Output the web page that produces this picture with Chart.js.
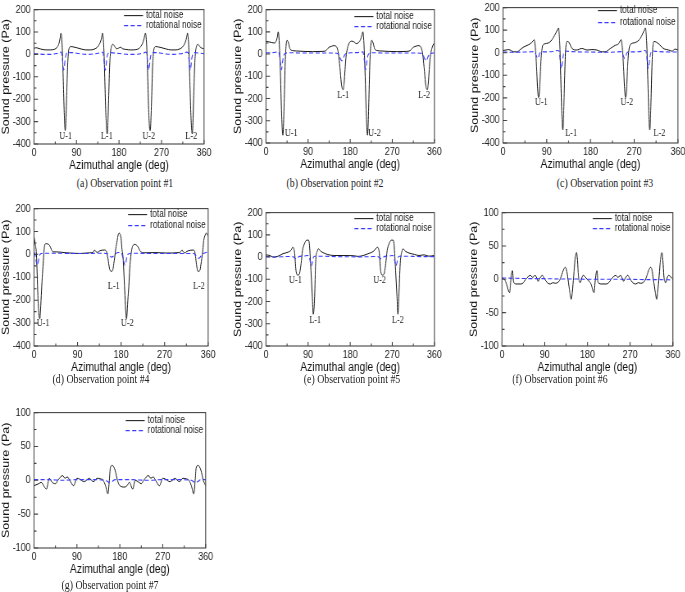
<!DOCTYPE html>
<html><head><meta charset="utf-8">
<script src="https://cdn.jsdelivr.net/npm/chart.js@4.4.1/dist/chart.umd.min.js"></script>
<style>
html,body{margin:0;padding:0;background:#fff}
body{width:685px;height:592px;position:relative;overflow:hidden}
canvas.pn{position:absolute;transform-origin:0 0;transform:scaleX(0.82)}
.cap{position:absolute;font-family:"Liberation Serif","Times New Roman",serif;font-size:12px;line-height:14px;color:#222;white-space:nowrap;transform:translateX(-50%) scaleX(0.82)}
</style></head><body>
<script>
// ---------- DATA ----------
const xTickLabels = [0, 90, 180, 270, 360];
const seriesNames = ['total noise', 'rotational noise'];
const captions = ['(a) Observation point #1','(b) Observation point #2','(c) Observation point #3','(d) Observation point #4','(e) Observation point #5','(f) Observation point #6','(g) Observation point #7'];

// (a)
const aTotAng = [0,4,8,14,20,30,40,46,50,53,55,57,58,60,62,64,66,67,69,71,73,75,78,84,90,100,110,120,128,134,139,142,144,145,146,148,150,152,154,155,156,158,160,162,164,167,171,175,179,183,188,195,205,215,222,226,230,233,236,237,239,241,243,245,246,247,249,251,253,255,258,264,270,280,290,300,308,314,319,322,324,325,326,328,330,332,334,335,336,338,340,342,344,347,351,355,360];
const aTot    = [25,30,28,24,21,20,21,26,35,50,70,95,85,20,-120,-260,-340,-320,-200,-60,10,30,35,33,30,24,20,20,24,32,48,65,85,95,85,20,-120,-260,-340,-355,-330,-200,-60,10,35,45,35,25,28,32,25,22,20,21,26,35,50,70,95,85,20,-120,-260,-335,-340,-320,-200,-60,10,30,35,33,30,24,20,20,24,32,48,65,85,95,85,20,-120,-260,-340,-355,-330,-200,-60,10,35,45,35,28,25];
const aRotAng = [0,10,20,35,45,52,56,58,60,62,63,64,66,68,72,80,90,100,115,130,138,143,146,148,150,151,152,154,156,160,170,185,200,215,225,232,236,238,240,242,243,244,246,248,252,260,270,280,295,310,318,323,326,328,330,331,332,334,336,340,350,360];
const aRot    = [3,2,0,0,3,6,10,8,-20,-60,-70,-60,-20,0,8,8,5,2,0,3,6,10,8,-20,-60,-70,-60,-20,0,8,6,3,0,0,3,6,10,8,-20,-60,-70,-60,-20,0,8,8,5,2,0,3,6,10,8,-20,-60,-70,-60,-20,0,8,6,3];
const aMarks  = [['U-1',67,-368],['L-1',154,-368],['U-2',243,-368],['L-2',333,-368]];

// (b)
const bTotAng = [0,6,12,18,21,24,26,27,29,31,33,35,36,37,39,41,43,45,48,51,56,65,80,100,120,128,132,136,140,145,149,152,155,158,161,163,165,167,169,171,174,178,183,188,193,198,202,205,207,208,210,212,214,216,217,218,220,222,224,226,229,232,237,246,261,281,300,308,312,316,320,325,329,332,335,338,341,343,345,347,349,351,354,357,360];
const bTot    = [57,55,52,50,55,75,100,90,20,-100,-250,-350,-365,-340,-200,-40,40,62,50,25,16,14,12,11,12,15,25,32,35,38,36,28,0,-60,-130,-155,-160,-130,-70,-15,25,50,58,55,47,52,65,85,100,90,20,-100,-250,-350,-365,-340,-200,-40,40,62,50,25,16,14,12,11,12,15,25,32,35,38,36,28,0,-60,-130,-155,-160,-130,-70,-15,20,40,50];
const bRotAng = [0,10,20,26,28,30,32,33,34,36,38,41,50,70,100,130,150,155,158,161,163,165,168,172,185,200,206,208,210,212,213,214,216,218,221,230,250,280,310,330,335,338,341,343,345,348,352,360];
const bRot    = [5,6,8,10,5,-25,-60,-70,-60,-25,-5,3,6,5,5,5,4,0,-15,-28,-30,-20,-5,3,6,8,10,5,-25,-60,-70,-60,-25,-5,3,6,5,5,5,4,0,-15,-28,-30,-20,-5,3,5];
const bMarks  = [['U-1',54,-356],['L-1',165,-185],['U-2',232,-356],['L-2',338,-185]];

// (c)
const cTotAng = [0,6,12,17,22,29,36,43,53,59,62,64,65,67,69,71,73,74,76,78,80,82,87,97,104,109,112,114,115,117,119,121,123,124,126,128,130,132,135,142,152,162,173,183,193,204,210,221,231,238,241,243,244,246,248,250,252,253,255,257,259,262,272,282,287,291,293,294,296,298,300,302,303,305,307,309,311,320,330,341,348,354,360];
const cTot    = [10,12,14,9,4,4,15,26,36,45,52,58,50,10,-60,-150,-198,-195,-130,-40,10,33,40,48,69,88,102,110,100,30,-120,-270,-342,-320,-180,-30,40,50,48,19,12,19,12,14,12,4,4,19,33,40,52,58,50,10,-60,-150,-198,-195,-130,-40,10,36,45,62,82,102,110,100,30,-120,-270,-342,-320,-180,-30,40,50,40,19,12,7,16,12];
const cRotAng = [0,20,40,55,64,66,69,71,73,75,78,90,105,112,115,117,119,120,121,123,125,128,135,150,180,210,230,243,245,248,250,252,254,257,270,285,291,294,296,298,299,300,302,304,307,315,330,360];
const cRot    = [3,2,3,4,5,0,-15,-25,-20,-5,3,4,6,10,8,-20,-60,-70,-60,-25,-3,8,6,4,3,2,3,5,0,-15,-25,-20,-5,3,4,6,10,8,-20,-60,-70,-60,-25,-3,8,6,4,3];
const cMarks  = [['U-1',79,-222],['L-1',140,-359],['U-2',255,-222],['L-2',322,-359]];

// (d)
const dTotAng = [0,2,5,8,10,12,13,15,17,19,22,25,29,32,36,39,46,67,95,115,122,125,128,131,136,146,150,153,156,159,163,165,167,169,172,174,176,178,180,182,184,186,188,190,191,192,194,196,198,200,203,205,208,212,215,219,226,250,275,300,303,306,309,312,316,319,329,332,334,336,339,343,345,347,349,351,354,356,358,360];
const dTot    = [78,50,0,-180,-260,-281,-260,-180,-100,-38,40,47,45,40,21,11,11,7,4,7,9,19,12,9,16,19,11,-20,-60,-74,-67,-40,-10,25,61,85,93,88,70,20,-10,-90,-180,-260,-281,-270,-200,-139,-60,-10,30,40,44,40,33,16,7,8,6,8,11,19,10,7,13,16,19,14,-10,-45,-74,-70,-45,-17,20,61,85,93,88,79];
const dRotAng = [0,2,4,6,7,9,11,13,18,40,100,140,152,156,160,164,168,175,179,182,185,188,190,192,195,205,250,300,330,334,338,341,345,349,355,360];
const dRot    = [10,0,-25,-45,-48,-30,-8,2,5,5,4,5,3,-5,-12,-8,2,8,8,0,-25,-48,-35,-10,2,5,4,4,4,-3,-15,-17,-8,2,8,10];
const dMarks  = [['U-1',18.6,-300],['L-1',165,-139],['U-2',193,-300],['L-2',341,-139]];

// (e)
const eTotAng = [0,8,15,26,36,47,54,57,61,64,68,71,75,78,82,87,91,93,96,99,101,104,106,110,112,117,124,131,145,166,187,197,208,218,229,236,238,242,245,249,252,256,259,263,268,272,274,277,280,282,284,287,291,293,298,306,317,327,338,348,360];
const eTot    = [10,7,0,4,15,22,32,44,22,-59,-81,-78,-29,29,59,76,76,51,-59,-176,-257,-176,-29,29,37,26,18,12,7,7,6,3,7,15,25,41,44,22,-59,-81,-78,-29,29,59,76,76,51,-59,-176,-257,-176,-29,29,37,26,18,12,7,10,4,7];
const eRotAng = [0,20,40,55,59,62,65,68,72,82,89,92,94,96,97,99,101,104,115,150,200,225,238,241,244,247,250,254,264,270,273,275,277,278,280,282,285,300,330,360];
const eRot    = [3,0,2,3,0,-6,-7,-2,3,5,7,5,-15,-35,-40,-25,-3,4,4,2,1,2,3,0,-6,-7,-2,3,5,7,5,-15,-35,-40,-25,-3,4,4,2,2];
const eMarks  = [['U-1',63,-103],['L-1',105,-286],['U-2',243,-103],['L-2',282,-286]];

// (f)
const fTotAng = [0,5,10,14,16,18,20,22,24,26,30,40,45,50,55,60,64,68,70,73,76,80,85,88,92,97,102,107,112,117,121,125,130,133,136,139,143,146,148,151,154,157,159,161,163,165,168,171,175,179,184,188,192,194,196,198,200,202,204,210,220,225,230,235,240,244,248,250,253,256,260,265,268,272,277,282,287,292,297,301,305,310,313,316,319,323,326,328,331,334,337,339,341,343,345,348,351,355,360];
const fTot    = [2,0,-8,-18,-20,-5,8,13,-3,-6,-7,-7,-5,0,4,6,3,5,6,2,-3,2,6,3,-2,-6,-7,-5,-6,-5,-2,5,15,18,14,0,-20,-30,-20,5,30,40,28,5,-3,-5,2,6,4,0,-3,-8,-18,-20,-5,8,13,-3,-6,-7,-7,-5,0,4,6,3,5,6,2,-3,2,6,3,-2,-6,-7,-5,-6,-5,-2,5,15,18,14,0,-20,-30,-20,5,30,40,28,5,-3,-5,2,6,4,0];
const fRotAng = [0,30,60,90,120,150,180,210,240,270,300,330,360];
const fRot    = [2,1.5,1,1,0.5,0.5,0,0,0,0,-0.5,-0.5,-1];

// (g)
const gTotAng = [0,10,15,22,26,32,38,45,50,60,65,70,75,83,90,95,105,110,115,125,132,140,145,150,155,158,160,164,170,175,180,190,195,200,207,212,220,225,230,240,245,250,255,263,270,275,285,290,295,305,312,320,325,330,335,338,340,344,350,355,360];
const gTot    = [-8,-5,-3,-10,-13,3,-3,-5,0,7,3,5,0,-8,3,2,-2,0,3,-2,3,2,0,-8,-20,0,18,22,15,0,-8,-10,-8,-3,-13,0,-3,-5,0,7,3,5,0,-8,3,2,-2,0,3,-2,3,2,0,-8,-20,0,18,22,15,0,-8];
const gRotAng = [0,30,60,90,120,150,157,163,170,200,240,270,300,330,337,343,350,360];
const gRot    = [1,1,0,1,1,0,-3,-2,1,1,0,1,1,0,-3,-2,1,1];

// ---------- LAYOUT ----------
const SX = 0.82, AX = 34, PT = 8, PR = 10, PB = 29;
const BLUE = '#3b3bff';
const panels = [
  {L:34, R:204, T:7,   B:144, yMin:-400, yMax:200, yStep:100, lg:[6,16], tot:[aTotAng,aTot], rot:[aRotAng,aRot], marks:aMarks, cap:[125,183]},
  {L:266,R:434, T:7,   B:143, yMin:-400, yMax:200, yStep:100, lg:[7,17], tot:[bTotAng,bTot], rot:[bRotAng,bRot], marks:bMarks, cap:[335,183]},
  {L:503,R:678, T:5,   B:143, yMin:-400, yMax:200, yStep:100, lg:[3,15], tot:[cTotAng,cTot], rot:[cRotAng,cRot], marks:cMarks, cap:[605,183]},
  {L:34, R:208, T:206, B:346, yMin:-400, yMax:200, yStep:100, lg:[6,17], tot:[dTotAng,dTot], rot:[dRotAng,dRot], marks:dMarks, cap:[101,379]},
  {L:266,R:434, T:210, B:346, yMin:-400, yMax:200, yStep:100, lg:[6,16], tot:[eTotAng,eTot], rot:[eRotAng,eRot], marks:eMarks, cap:[352,379]},
  {L:502,R:673, T:210, B:346, yMin:-100, yMax:100, yStep:50,  lg:[6,16], tot:[fTotAng,fTot], rot:[fRotAng,fRot], marks:[],     cap:[560,379]},
  {L:34, R:206, T:410, B:548, yMin:-100, yMax:100, yStep:50,  lg:[8,18], tot:[gTotAng,gTot], rot:[gRotAng,gRot], marks:[],     cap:[110,585]}
];

const pts = (xs, ys) => xs.map((x, i) => ({x: x, y: ys[i]}));
const SANS = '"Liberation Sans", Arial, sans-serif';
const SERIF = '"Liberation Serif", "Times New Roman", serif';

panels.forEach((p, idx) => {
  const pageW = p.R - p.L + AX + PR, H = p.B - p.T + PT + PB;
  const cv = document.createElement('canvas');
  cv.className = 'pn';
  cv.width = Math.round(pageW / SX); cv.height = H;
  cv.style.left = (p.L - AX) + 'px'; cv.style.top = (p.T - PT) + 'px';
  cv.style.width = cv.width + 'px'; cv.style.height = H + 'px';
  document.body.appendChild(cv);

  const deco = {
    id: 'deco' + idx,
    afterDraw(chart) {
      const ctx = chart.ctx, ca = chart.chartArea, xs = chart.scales.x, ys = chart.scales.y;
      ctx.save();
      ctx.strokeStyle = '#444'; ctx.lineWidth = 1.1; ctx.setLineDash([]);
      ctx.strokeRect(ca.left, ca.top, ca.right - ca.left, ca.bottom - ca.top);
      ctx.beginPath();
      for (let v = 0; v <= 360; v += 45) {
        const x = xs.getPixelForValue(v), len = v % 90 === 0 ? 4 : 2.5;
        ctx.moveTo(x, ca.bottom); ctx.lineTo(x, ca.bottom - len);
      }
      for (let v = p.yMin; v <= p.yMax; v += p.yStep / 2) {
        const y = ys.getPixelForValue(v), major = ((v - p.yMin) % p.yStep) === 0;
        ctx.moveTo(ca.left, y); ctx.lineTo(ca.left + (major ? 4 : 2.5) / SX, y);
      }
      ctx.stroke();
      // legend
      const r = ca.right, y1 = ca.top + p.lg[0], y2 = ca.top + p.lg[1];
      ctx.lineWidth = 1.1; ctx.strokeStyle = '#222';
      ctx.beginPath(); ctx.moveTo(r - 80 / SX, y1); ctx.lineTo(r - 61 / SX, y1); ctx.stroke();
      ctx.strokeStyle = BLUE; ctx.setLineDash([5, 3]);
      ctx.beginPath(); ctx.moveTo(r - 80 / SX, y2); ctx.lineTo(r - 61 / SX, y2); ctx.stroke();
      ctx.setLineDash([]);
      ctx.fillStyle = '#222'; ctx.font = '10px ' + SANS; ctx.textAlign = 'left'; ctx.textBaseline = 'middle';
      ctx.fillText(chart.data.datasets[0].label, r - 58 / SX, y1);
      ctx.fillText(chart.data.datasets[1].label, r - 58 / SX, y2);
      // blade labels
      ctx.font = '10px ' + SERIF; ctx.textAlign = 'center';
      p.marks.forEach(m => ctx.fillText(m[0], xs.getPixelForValue(m[1]), ys.getPixelForValue(m[2])));
      ctx.restore();
    }
  };

  new Chart(cv, {
    type: 'line',
    data: { datasets: [
      { label: seriesNames[0], data: pts(p.tot[0], p.tot[1]), borderColor: '#1a1a1a', borderWidth: 1.0, pointRadius: 0, cubicInterpolationMode: 'monotone', fill: false, order: 1 },
      { label: seriesNames[1], data: pts(p.rot[0], p.rot[1]), borderColor: BLUE, borderWidth: 1.1, borderDash: [5, 3], pointRadius: 0, cubicInterpolationMode: 'monotone', fill: false, order: 0 }
    ]},
    options: {
      responsive: false, animation: false, devicePixelRatio: 1,
      layout: { padding: { left: 0, top: PT, right: PR / SX, bottom: 0 } },
      plugins: { legend: { display: false }, tooltip: { enabled: false } },
      scales: {
        x: { type: 'linear', min: 0, max: 360,
             afterBuildTicks: s => { s.ticks = xTickLabels.map(v => ({ value: v })); },
             grid: { display: false, drawTicks: false }, border: { display: false },
             ticks: { font: { family: SANS, size: 11 }, color: '#222', padding: 2, maxRotation: 0, autoSkip: false },
             title: { display: true, text: 'Azimuthal angle (deg)', font: { family: SANS, size: 12.5 }, color: '#111', padding: 0 },
             afterFit: s => { s.height = PB; } },
        y: { type: 'linear', min: p.yMin, max: p.yMax,
             ticks: { stepSize: p.yStep, font: { family: SANS, size: 11 }, color: '#222', padding: 4 },
             grid: { display: false, drawTicks: false }, border: { display: false },
             title: { display: true, text: 'Sound pressure (Pa)', font: { family: SANS, size: 12.5 }, color: '#111', padding: 0 },
             afterFit: s => { s.width = AX / SX; } }
      }
    },
    plugins: [deco]
  });

  const cap = document.createElement('div');
  cap.className = 'cap';
  cap.textContent = captions[idx];
  cap.style.left = p.cap[0] + 'px'; cap.style.top = (p.cap[1] - 7) + 'px';
  document.body.appendChild(cap);
});
</script>
</body></html>
